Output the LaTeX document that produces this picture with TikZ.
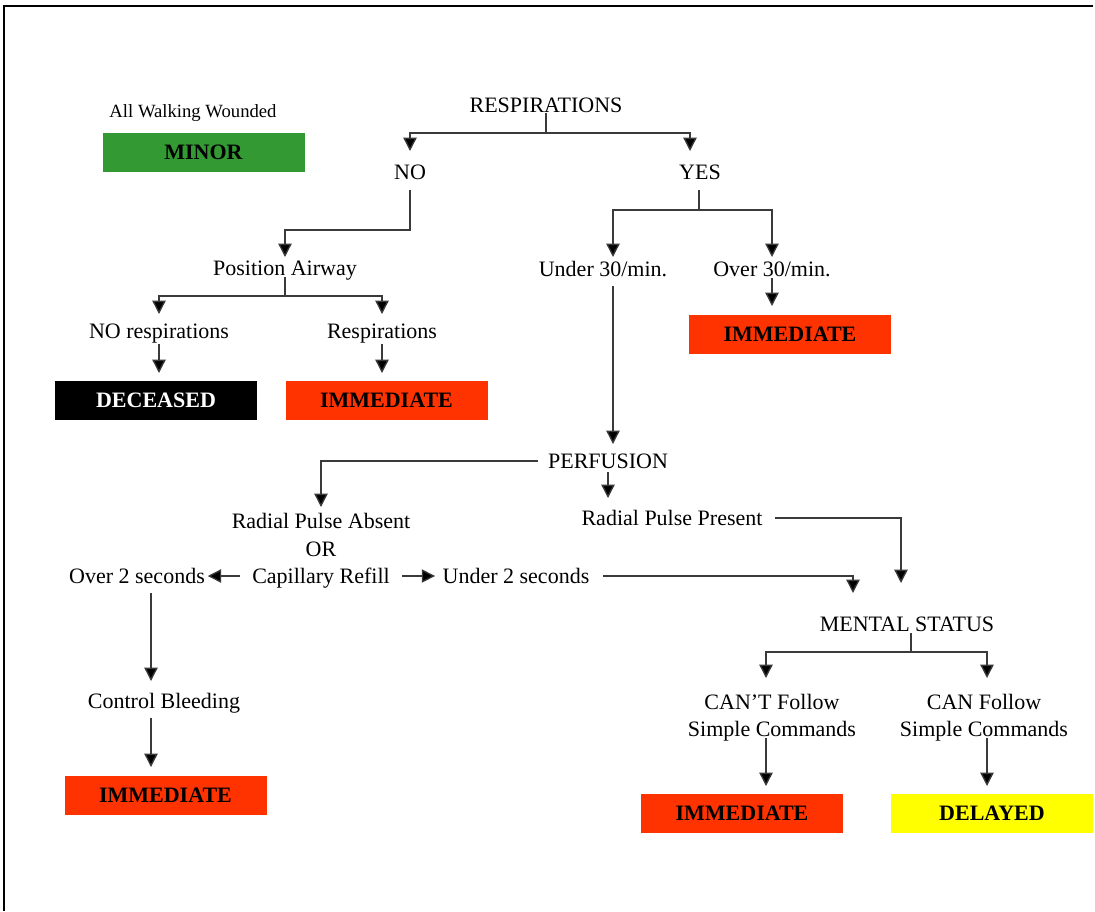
\documentclass[tikz,border=0pt]{standalone}
\usepackage{fontspec}
\setmainfont{Liberation Serif}
\usetikzlibrary{arrows.meta}
\definecolor{minorgreen}{HTML}{339933}
\definecolor{immred}{HTML}{FF3300}
\definecolor{delyellow}{HTML}{FFFF00}
\definecolor{linegray}{HTML}{3A3A3A}
\begin{document}
\begin{tikzpicture}[x=0.75pt,y=-0.75pt,
  lbl/.style={inner sep=0pt,font=\fontsize{16.5}{20.25}\selectfont,text height=10.9pt,text depth=0pt},
  lbltwo/.style={inner sep=0pt,font=\fontsize{16.5}{20.25}\selectfont,align=center},
  smalllbl/.style={inner sep=0pt,font=\fontsize{14}{17}\selectfont,text height=9.3pt,text depth=0pt},
  tag/.style={inner sep=0pt,minimum width=151.5pt,minimum height=29.25pt,font=\fontsize{16.5}{20}\selectfont\bfseries},
  conn/.style={draw=linegray,line width=1pt},
  arr/.style={conn,-{Triangle[width=10pt,length=10pt,fill=black]}},
  frame/.style={draw=black,line width=1.6pt}]
\useasboundingbox (0,0) rectangle (1095,911);
\draw[frame] (4,911) -- (4,6) -- (1093,6);

% ---- nodes ----
\node[smalllbl] (walk) at (193,111) {All Walking Wounded};
\node[tag,fill=minorgreen] (minor) at (203.5,152) {MINOR};
\node[lbl] (resp) at (546,105) {RESPIRATIONS};
\node[lbl] (no) at (410,172) {NO};
\node[lbl] (yes) at (700,172) {YES};
\node[lbl] (posair) at (285,268) {Position Airway};
\node[lbl] (norsp) at (159,331) {NO respirations};
\node[lbl] (rsp) at (382,331) {Respirations};
\node[tag,fill=black,text=white] (dec) at (156,400.5) {DECEASED};
\node[tag,fill=immred] (imm1) at (386.5,400.5) {IMMEDIATE};
\node[lbl] (u30) at (603,269) {Under 30/min.};
\node[lbl] (o30) at (772,269) {Over 30/min.};
\node[tag,fill=immred] (imm2) at (790,334.5) {IMMEDIATE};
\node[lbl] (perf) at (608,461) {PERFUSION};
\node[lbl] (rpa) at (321,521) {Radial Pulse Absent};
\node[lbl] (or) at (321,549) {OR};
\node[lbl] (cap) at (321,576) {Capillary Refill};
\node[lbl] (o2) at (137,576) {Over 2 seconds};
\node[lbl] (u2) at (516,576) {Under 2 seconds};
\node[lbl] (rpp) at (672,518) {Radial Pulse Present};
\node[lbl] (ctrl) at (164,701) {Control Bleeding};
\node[tag,fill=immred] (imm3) at (165.5,795) {IMMEDIATE};
\node[lbl] (mental) at (907,624) {MENTAL STATUS};
\node[lbltwo] (cant) at (772,718) {CAN'T Follow\\Simple Commands};
\node[lbltwo] (can) at (984,718) {CAN Follow\\Simple Commands};
\node[tag,fill=immred] (imm4) at (742,813.5) {IMMEDIATE};
\node[tag,fill=delyellow] (del) at (992,813.5) {DELAYED};

% ---- named free ends ----
\coordinate (respbar) at (546,133);
\coordinate (yesin) at (690,151);
\coordinate (yesbar) at (699,210);
\coordinate (u30in) at (613,257);
\coordinate (u30out) at (613,286);
\coordinate (o2out) at (151,593);
\coordinate (mstem) at (911,633);
\coordinate (mbar) at (911,652);
\coordinate (cantin) at (766,678);
\coordinate (canin) at (987,678);
\coordinate (mentalinL) at (853,593);
\coordinate (mentalinR) at (901,583);

% ---- connectors ----
% respirations
\draw[conn] (resp.south) -- (respbar);
\draw[arr] (respbar) -| (no |- 0,151);
\draw[arr] (respbar) -| (yesin);
% NO branch
\draw[arr] (no |- 0,190) -- (no |- 0,230) -| (posair |- 0,257);
\draw[conn] (posair |- 0,277) -- (posair |- 0,296);
\draw[arr] (posair |- 0,296) -| (norsp |- 0,314);
\draw[arr] (posair |- 0,296) -| (rsp |- 0,314);
\draw[arr] (norsp |- 0,344) -- (norsp |- 0,373);
\draw[arr] (rsp |- 0,344) -- (rsp |- 0,373);
% YES branch
\draw[conn] (yesbar |- 0,190) -- (yesbar);
\draw[arr] (yesbar) -| (u30in);
\draw[arr] (yesbar) -| (o30 |- 0,257);
\draw[arr] (o30 |- 0,278) -- (o30 |- 0,306);
\draw[arr] (u30out) -- (u30out |- 0,444);
% perfusion
\draw[arr] ([xshift=-7.5pt]perf.west) -| (rpa |- 0,507);
\draw[arr] (perf |- 0,472) -- (perf |- 0,498);
% capillary refill
\draw[arr] ([xshift=-9pt]cap.west) -- ([xshift=2pt]o2.east);
\draw[arr] ([xshift=9pt]cap.east) -- ([xshift=-5.5pt]u2.west);
\draw[arr] ([xshift=10pt]u2.east) -| (mentalinL);
\draw[arr] ([xshift=9pt]rpp.east) -| (mentalinR);
% over 2 seconds
\draw[arr] (o2out) -- (o2out |- 0,681);
\draw[arr] (o2out |- 0,718) -- (o2out |- 0,767);
% mental status
\draw[conn] (mstem) -- (mbar);
\draw[arr] (mbar) -| (cantin);
\draw[arr] (mbar) -| (canin);
\draw[arr] (cantin |- 0,738) -- (cantin |- 0,786);
\draw[arr] (canin |- 0,738) -- (canin |- 0,786);
\end{tikzpicture}
\end{document}
